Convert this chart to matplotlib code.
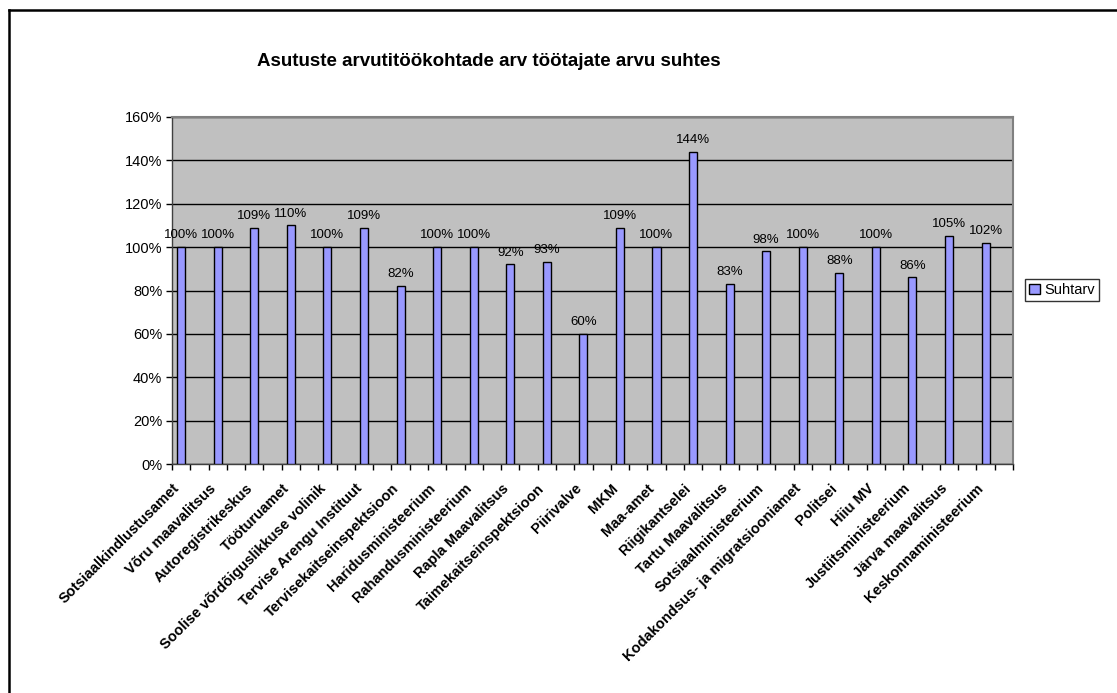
import numpy as np
import matplotlib.pyplot as plt
from matplotlib.ticker import PercentFormatter, MultipleLocator
from matplotlib.lines import Line2D
from matplotlib.transforms import ScaledTranslation

plt.rcParams['font.family'] = ['Liberation Sans', 'DejaVu Sans']

# Institutions and their ratio of computer workplaces to employees (%)
asutused = ['Sotsiaalkindlustusamet', 'Võru maavalitsus', 'Autoregistrikeskus',
            'Tööturuamet', 'Soolise võrdõiguslikkuse volinik',
            'Tervise Arengu Instituut', 'Tervisekaitseinspektsioon',
            'Haridusministeerium', 'Rahandusministeerium', 'Rapla Maavalitsus',
            'Taimekaitseinspektsioon', 'Piirivalve', 'MKM', 'Maa-amet',
            'Riigikantselei', 'Tartu Maavalitsus', 'Sotsiaalministeerium',
            'Kodakondsus- ja migratsiooniamet', 'Politsei', 'Hiiu MV',
            'Justiitsministeerium', 'Järva maavalitsus', 'Keskonnaministeerium']
suhtarv = [100, 100, 109, 110, 100, 109, 82, 100, 100, 92, 93, 60, 109, 100,
           144, 83, 98, 100, 88, 100, 86, 105, 102]

W, H = 1117, 693
fig = plt.figure(figsize=(W / 100, H / 100), dpi=100)
ax = fig.add_axes([172 / W, 1 - 464 / H, (1013 - 172) / W, (464 - 117) / H])

x = np.arange(len(asutused))
ax.set_facecolor('#C0C0C0')
ax.bar(x, suhtarv, width=0.22, color='#9999FF', edgecolor='black',
       linewidth=1.0, label='Suhtarv', zorder=3)

for xi, v in zip(x, suhtarv):
    ax.annotate(f'{v}%', (xi, v), xytext=(0, 4.2), textcoords='offset points',
                ha='center', va='bottom', fontsize=9.5, zorder=4)

ax.set_xlim(-0.25, len(asutused) - 0.25)
ax.set_ylim(0, 160)
ax.yaxis.set_major_locator(MultipleLocator(20))
ax.yaxis.set_major_formatter(PercentFormatter(100, decimals=0))
ax.grid(axis='y', color='black', linewidth=1.0, zorder=1)
ax.set_axisbelow(True)

ax.set_xticks(x)
ax.set_xticklabels(asutused, rotation=45, ha='right', rotation_mode='anchor',
                   fontsize=10.5, fontweight='bold')
ax.set_xticks(np.arange(-0.25, len(asutused), 0.5), minor=True)
ax.tick_params(axis='x', which='major', length=0, pad=11)
ax.tick_params(axis='x', which='minor', length=4, width=1, direction='out')
ax.tick_params(axis='y', length=4, width=1, labelsize=10.5, pad=3)

# nudge rotated category labels left, like the original
shift = ScaledTranslation(-9 / 100, -2 / 100, fig.dpi_scale_trans)
for lbl in ax.get_xticklabels():
    lbl.set_transform(lbl.get_transform() + shift)

for side in ['top', 'right']:
    ax.spines[side].set_color('#808080')
    ax.spines[side].set_linewidth(1.5)
for side in ['left', 'bottom']:
    ax.spines[side].set_color('#404040')
    ax.spines[side].set_linewidth(1.0)

fig.text(489 / W, 1 - 62 / H, 'Asutuste arvutitöökohtade arv töötajate arvu suhtes',
         ha='center', va='center', fontsize=13.5, fontweight='bold')

leg = ax.legend(loc='center left', bbox_to_anchor=(1025 / W, 1 - 290 / H),
                bbox_transform=fig.transFigure, fontsize=10.5, frameon=True,
                fancybox=False, shadow=False, borderpad=0.3, handlelength=0.7,
                handleheight=0.7, handletextpad=0.3, borderaxespad=0)
leg.get_frame().set_edgecolor('black')
leg.get_frame().set_linewidth(1.0)

# outer chart border (left and top visible)
fig.add_artist(Line2D([9 / W, 9 / W], [0, 1 - 10 / H], color='black', linewidth=1.8))
fig.add_artist(Line2D([9 / W, 1], [1 - 10 / H, 1 - 10 / H], color='black', linewidth=1.8))

fig.savefig('out.png', dpi=100)
